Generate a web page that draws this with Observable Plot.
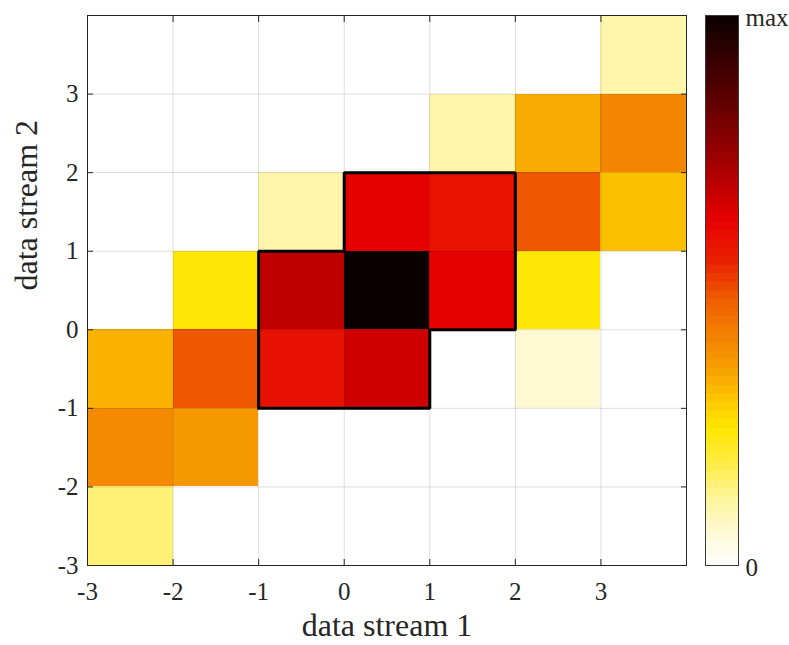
<!DOCTYPE html>
<html>
<head>
<meta charset="utf-8">
<script src="https://cdn.jsdelivr.net/npm/d3@7"></script>
<script src="https://cdn.jsdelivr.net/npm/@observablehq/plot@0.6"></script>
<style>
  html, body { margin: 0; padding: 0; background: #ffffff; }
  #wrap { position: relative; width: 789px; height: 645px; }
  #wrap svg { position: absolute; left: 0; top: 0; }
</style>
</head>
<body>
<div id="wrap"></div>
<script>
// bin edges (lower edge of each bin, width 1)
const xBins = [-3, -2, -1, 0, 1, 2, 3];
const yBins = [3, 2, 1, 0, -1, -2, -3]; // rows, top to bottom
// relative counts (fraction of max) for each row (y bin) and column (x bin)
const row_y3  = [0, 0, 0, 0, 0, 0, 0.105];
const row_y2  = [0, 0, 0, 0, 0.105, 0.34, 0.41];
const row_y1  = [0, 0, 0.105, 0.63, 0.585, 0.49, 0.31];
const row_y0  = [0, 0.245, 0.69, 1.0, 0.63, 0.245, 0];
const row_ym1 = [0.33, 0.49, 0.59, 0.665, 0, 0.06, 0];
const row_ym2 = [0.40, 0.37, 0, 0, 0, 0, 0];
const row_ym3 = [0.15, 0, 0, 0, 0, 0, 0];
const rows = [row_y3, row_y2, row_y1, row_y0, row_ym1, row_ym2, row_ym3];

// tick values and labels
const xTicks = [-3, -2, -1, 0, 1, 2, 3];
const yTicks = [-3, -2, -1, 0, 1, 2, 3];
const cbarTicks = [0, 1];
const cbarLabels = ["0", "max"];

// highlighted region outline (data units)
const outlineX = [-1, 1, 1, 2, 2, 0, 0, -1, -1];
const outlineY = [-1, -1, 0, 0, 2, 2, 1, 1, -1];

// colormap stops
const cmapStops  = [0, 0.045, 0.118, 0.19, 0.25, 0.30, 0.355, 0.42, 0.48, 0.555, 0.63, 0.72, 0.845, 1];
const cmapColors = ["#ffffff", "#fffae0", "#fff5a0", "#ffec40", "#ffe600", "#fcc800", "#f7a000",
                    "#f28000", "#f06000", "#e82000", "#e60000", "#aa0000", "#600000", "#0a0000"];

const cells = [];
rows.forEach((r, i) => r.forEach((v, j) => {
  if (v > 0) cells.push({x: xBins[j], y: yBins[i], v});
}));
const outline = outlineX.map((x, i) => ({x, y: outlineY[i]}));

const font = "'Liberation Serif', 'Times New Roman', serif";
const axisColor = "#262626";
const colorScale = {type: "linear", domain: cmapStops, range: cmapColors, interpolate: "rgb"};

const main = Plot.plot({
  width: 789,
  height: 645,
  marginLeft: 87,
  marginRight: 103,
  marginTop: 15,
  marginBottom: 80,
  style: {fontFamily: font, color: axisColor, background: "#ffffff", overflow: "visible"},
  x: {domain: [-3, 4], label: null},
  y: {domain: [-3, 4], label: null},
  color: colorScale,
  marks: [
    Plot.rect(cells, {x1: "x", x2: d => d.x + 1, y1: "y", y2: d => d.y + 1, fill: "v", shapeRendering: "crispEdges"}),
    Plot.gridX(xTicks, {stroke: "#000", strokeOpacity: 0.13}),
    Plot.gridY(yTicks, {stroke: "#000", strokeOpacity: 0.13}),
    Plot.line(outline, {x: "x", y: "y", stroke: "#000", strokeWidth: 3, strokeLinejoin: "miter", strokeLinecap: "square"}),
    Plot.frame({stroke: axisColor, strokeWidth: 1}),
    // inward ticks on all four sides
    Plot.axisX({anchor: "bottom", ticks: xTicks, tickSize: 6, dy: -6, tickFormat: () => "", stroke: axisColor, label: null}),
    Plot.axisX({anchor: "top", ticks: xTicks, tickSize: 6, dy: 6, tickFormat: () => "", stroke: axisColor, label: null}),
    Plot.axisY({anchor: "left", ticks: yTicks, tickSize: 6, dx: 6, tickFormat: () => "", stroke: axisColor, label: null}),
    Plot.axisY({anchor: "right", ticks: yTicks, tickSize: 6, dx: -6, tickFormat: () => "", stroke: axisColor, label: null}),
    // tick labels
    Plot.axisX({anchor: "bottom", ticks: xTicks, tickSize: 0, tickPadding: 17, tickFormat: d => `${d}`, fontSize: 25, fill: axisColor, label: null}),
    Plot.axisY({anchor: "left", ticks: yTicks, tickSize: 0, tickPadding: 9, tickFormat: d => `${d}`, fontSize: 25, fill: axisColor, label: null}),
    // axis titles
    Plot.text(["data stream 1"], {frameAnchor: "bottom", dy: 60, lineAnchor: "middle", fontSize: 32, fill: axisColor, style: {letterSpacing: "1.6px"}}),
    Plot.text(["data stream 2"], {frameAnchor: "left", dx: -61, rotate: -90, lineAnchor: "middle", fontSize: 32, fill: axisColor, style: {letterSpacing: "1.6px"}})
  ]
});

// colorbar as a second plot in the same pixel frame
const steps = d3.range(64).map(i => ({y1: i / 64, y2: (i + 1) / 64, v: (i + 0.5) / 64}));
const cbar = Plot.plot({
  width: 789,
  height: 645,
  marginLeft: 705,
  marginRight: 51,
  marginTop: 15,
  marginBottom: 80,
  style: {fontFamily: font, color: axisColor, background: "transparent", overflow: "visible"},
  x: {domain: [0, 1], axis: null},
  y: {domain: [0, 1], label: null},
  color: colorScale,
  marks: [
    Plot.rect(steps, {x1: 0, x2: 1, y1: "y1", y2: "y2", fill: "v", stroke: "v", strokeWidth: 0.6, shapeRendering: "crispEdges"}),
    Plot.frame({stroke: "#3a3a3a", strokeWidth: 1}),
    Plot.axisY({anchor: "right", ticks: cbarTicks, tickSize: 0, tickPadding: 7, dy: 2,
      tickFormat: d => cbarLabels[cbarTicks.indexOf(d)], fontSize: 25, fill: axisColor, label: null})
  ]
});

const wrap = document.getElementById("wrap");
wrap.appendChild(main);
wrap.appendChild(cbar);
</script>
</body>
</html>
